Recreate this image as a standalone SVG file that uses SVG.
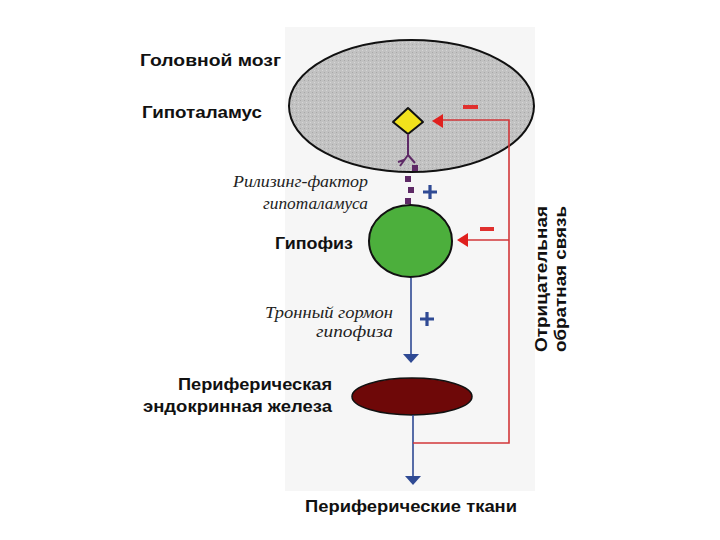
<svg xmlns="http://www.w3.org/2000/svg" width="720" height="540" viewBox="0 0 720 540">
<defs>
<style>
.lbl{font-family:"Liberation Sans",Arial,sans-serif;font-weight:bold;font-size:17px;fill:#111}
.it{font-family:"Liberation Serif","Times New Roman",serif;font-style:italic;font-size:16px;fill:#222}
.red{stroke:#d2373a;stroke-width:1.6;fill:none}
.blue{stroke:#2f4a94;stroke-width:1.6;fill:none}
.sq{fill:#5e2a66}
</style>
<pattern id="stip" width="4" height="4" patternUnits="userSpaceOnUse">
<rect width="4" height="4" fill="#c2c2c2"/>
<rect x="0" y="0" width="1" height="1" fill="#a8a8a8"/>
<rect x="2" y="2" width="1" height="1" fill="#d6d6d6"/>
</pattern>
<marker id="ar" viewBox="0 0 10 10" refX="10" refY="5" markerWidth="10" markerHeight="10" markerUnits="userSpaceOnUse" orient="auto">
<path d="M0,0 L10,5 L0,10 Z" fill="#e0201e"/>
</marker>
<marker id="ab" viewBox="0 0 10 16" refX="9" refY="8" markerWidth="9" markerHeight="16" markerUnits="userSpaceOnUse" orient="auto">
<path d="M0,0 L9,8 L0,16 L3,8 Z" fill="#2f4a94"/>
</marker>
</defs>
<rect width="720" height="540" fill="#ffffff"/>
<rect x="285" y="27" width="250" height="464" fill="#f6f6f6"/>

<g id="brain">
<ellipse cx="411.5" cy="106" rx="122.5" ry="66" fill="url(#stip)" stroke="#111" stroke-width="2"/>
</g>
<g id="hypothalamus">
<path d="M408,108 L423,122 L408,134 L393,122 Z" fill="#f2e21c" stroke="#111" stroke-width="2" stroke-linejoin="round"/>
<path d="M408,134 L408,155 M408,155 L400,166 M408,155 L415,163 M404,160 L398,162" stroke="#5e2a66" stroke-width="2" fill="none"/>
</g>
<g id="pituitary">
<ellipse cx="410.5" cy="241" rx="41.5" ry="36" fill="#4caf3c" stroke="#111" stroke-width="2"/>
</g>
<g id="gland">
<ellipse cx="412" cy="396.5" rx="60" ry="18.5" fill="#6e0808" stroke="#111" stroke-width="1.5"/>
</g>

<g id="connectors">
<rect class="sq" x="412" y="165" width="6" height="6"/>
<rect class="sq" x="405" y="176" width="6" height="6"/>
<rect class="sq" x="408" y="187" width="6" height="6"/>
<rect class="sq" x="405" y="198" width="6" height="6"/>
<path class="blue" d="M411,278 V362"/>
<path d="M403,354 L419,354 L411,363 Z" fill="#2f4a94"/>
<path class="blue" d="M413,415 V484"/>
<path d="M405,476 L421,476 L413,485 Z" fill="#2f4a94"/>
<path class="red" d="M413,443 H509 V120 H441"/>
<path d="M432,121 L443,114 L443,128 Z" fill="#e0201e"/>
<path class="red" d="M509,240 H466"/>
<path d="M457,240 L468,233 L468,247 Z" fill="#e0201e"/>
<rect x="463" y="105" width="15" height="4" fill="#e0302e"/>
<rect x="480" y="227" width="14" height="4" fill="#e0302e"/>
<path d="M423,192 H437 M430,185 V199" stroke="#2f4a94" stroke-width="3.2"/>
<path d="M420,319 H434 M427,312 V326" stroke="#2f4a94" stroke-width="3.2"/>
</g>

<g id="labels">
<text class="lbl" x="140" y="66" textLength="141" lengthAdjust="spacingAndGlyphs">Головной мозг</text>
<text class="lbl" x="142" y="118" textLength="120" lengthAdjust="spacingAndGlyphs">Гипоталамус</text>
<text class="it" x="368" y="187" text-anchor="end" textLength="135" lengthAdjust="spacingAndGlyphs">Рилизинг-фактор</text>
<text class="it" x="368" y="209" text-anchor="end" textLength="105" lengthAdjust="spacingAndGlyphs">гипоталамуса</text>
<text class="lbl" x="275" y="249" textLength="78" lengthAdjust="spacingAndGlyphs">Гипофиз</text>
<text class="it" x="393" y="318" text-anchor="end" textLength="128" lengthAdjust="spacingAndGlyphs">Тронный гормон</text>
<text class="it" x="393" y="337" text-anchor="end" textLength="77" lengthAdjust="spacingAndGlyphs">гипофиза</text>
<text class="lbl" x="332" y="390" text-anchor="end" textLength="154" lengthAdjust="spacingAndGlyphs">Периферическая</text>
<text class="lbl" x="332" y="412" text-anchor="end" textLength="189" lengthAdjust="spacingAndGlyphs">эндокринная железа</text>
<text class="lbl" x="305" y="512" textLength="212" lengthAdjust="spacingAndGlyphs">Периферические ткани</text>
<text class="lbl" transform="translate(547,352) rotate(-90)" textLength="146" lengthAdjust="spacingAndGlyphs">Отрицательная</text>
<text class="lbl" transform="translate(566,352) rotate(-90)" textLength="146" lengthAdjust="spacingAndGlyphs">обратная связь</text>
</g>
</svg>
